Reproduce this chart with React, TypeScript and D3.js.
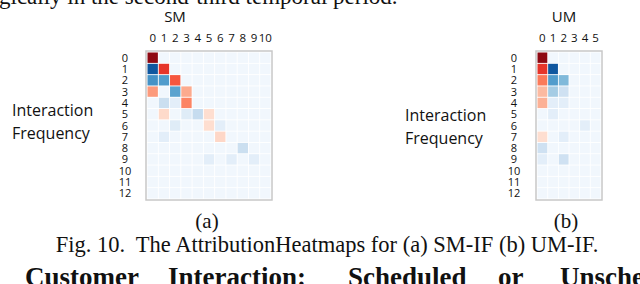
import React from "react";
import * as d3 from "d3";

// column / row index labels
const smCols = ["0", "1", "2", "3", "4", "5", "6", "7", "8", "9", "10"];
const umCols = ["0", "1", "2", "3", "4", "5"];
const rows = ["0", "1", "2", "3", "4", "5", "6", "7", "8", "9", "10", "11", "12"];

// attribution values, positive = red, negative = blue
const smValues = [
  [0.92, 0, 0, 0, 0, 0, 0, 0, 0, 0, 0],
  [-0.85, 0.65, 0, 0, 0, 0, 0, 0, 0, 0, 0],
  [-0.62, -0.58, 0.55, 0, 0, 0, 0, 0, 0, 0, 0],
  [0.35, -0.02, -0.55, 0.3, 0, 0, 0, 0, 0, 0, 0],
  [0, -0.22, -0.1, 0.42, 0, 0, 0, 0, 0, 0, 0],
  [0, 0.14, 0, -0.12, -0.24, 0.12, 0, 0, 0, 0, 0],
  [0, 0, -0.12, 0, 0, 0.12, -0.1, 0, 0, 0, 0],
  [0, -0.1, 0, 0, 0, 0, 0.15, 0, 0, 0, 0],
  [0, 0, 0, 0, 0, 0, 0, 0, -0.22, 0, 0],
  [0, 0, 0, 0, 0, -0.1, 0, -0.1, 0, -0.1, 0],
  [0, 0, 0, 0, 0, 0, 0, 0, 0, 0, 0],
  [0, 0, 0, 0, 0, 0, 0, 0, 0, 0, 0],
  [0, 0, 0, 0, 0, 0, 0, 0, 0, 0, 0],
];

const umValues = [
  [0.92, 0, 0, 0, 0, 0],
  [0.65, -0.85, 0, 0, 0, 0],
  [0.45, -0.58, -0.45, 0, 0, 0],
  [0.25, -0.35, -0.2, 0, 0, 0],
  [0.28, -0.1, -0.1, 0, 0, 0],
  [0, -0.1, 0, 0, 0, 0],
  [0, 0, 0, 0, -0.1, 0],
  [0.12, 0, -0.1, 0, 0, 0],
  [-0.2, 0, 0, 0, 0, 0],
  [-0.1, 0, -0.2, 0, 0, 0],
  [0, 0, 0, 0, 0, 0],
  [0, 0, 0, 0, 0, 0],
  [0, 0, 0, 0, 0, 0],
];

const SANS = "'Open Sans', sans-serif";
const SERIF = "'Liberation Serif', 'Times New Roman', serif";

const color = (v: number) =>
  v > 0 ? d3.interpolateReds(v) : d3.interpolateBlues(Math.max(0.03, -v));

type HeatProps = {
  title: string;
  cols: string[];
  values: number[][];
  x0: number;
  x1: number;
  titleX: number;
  labelX: number;
  labelY: number;
  rowLabelX: number;
  sub: string;
  subX: number;
};

const Heatmap = ({ title, cols, values, x0, x1, titleX, labelX, labelY, rowLabelX, sub, subX }: HeatProps) => {
  const top = 51;
  const bottom = 200;
  const x = d3.scaleBand().domain(cols).range([x0 + 1.5, x1 - 1.5]).paddingInner(0.08);
  const y = d3.scaleBand().domain(rows).range([top + 1.5, bottom - 1.5]).paddingInner(0.08);

  return (
    <g>
      <text x={titleX} y={22} fontFamily={SANS} fontSize={15} textAnchor="middle" fill="#111">
        {title}
      </text>
      <rect x={x0} y={top} width={x1 - x0} height={bottom - top} fill="#fff" stroke="#c8c8c8" strokeWidth={1.5} />
      {values.map((row, ri) =>
        row.map((v, ci) => (
          <rect
            key={`${ri}-${ci}`}
            x={x(cols[ci])}
            y={y(rows[ri])}
            width={x.bandwidth()}
            height={y.bandwidth()}
            fill={color(v)}
          />
        ))
      )}
      {cols.map((c) => (
        <text
          key={c}
          x={(x(c) as number) + x.bandwidth() / 2}
          y={42}
          fontFamily={SANS}
          fontSize={11.5}
          textAnchor="middle"
          fill="#111"
        >
          {c}
        </text>
      ))}
      {rows.map((r) => (
        <text
          key={r}
          x={rowLabelX}
          y={(y(r) as number) + y.bandwidth() / 2 + 4}
          fontFamily={SANS}
          fontSize={11}
          textAnchor="middle"
          fill="#111"
        >
          {r}
        </text>
      ))}
      <text x={labelX} y={labelY} fontFamily={SANS} fontSize={16} fill="#111">
        Interaction
      </text>
      <text x={labelX} y={labelY + 23} fontFamily={SANS} fontSize={16} fill="#111">
        Frequency
      </text>
      <text x={subX} y={228} fontFamily={SERIF} fontSize={21} textAnchor="middle" fill="#111">
        {sub}
      </text>
    </g>
  );
};

// words of the cut-off justified heading line below the figure
const headingWords = ["Customer", "Interaction:", "Scheduled", "or", "Unscheduled"];
const headingX = [25, 168, 348, 498, 560];

export default function App() {
  return (
    <svg
      width={640}
      height={284}
      viewBox="0 0 640 284"
      style={{ position: "absolute", left: 0, top: 0, background: "#fff" }}
    >
      <text x={-1} y={4} fontFamily={SERIF} fontSize={23} fill="#111">
        gically in the second-third temporal period.
      </text>
      <Heatmap
        title="SM"
        cols={smCols}
        values={smValues}
        x0={146}
        x1={272}
        titleX={175}
        labelX={12}
        labelY={116}
        rowLabelX={125}
        sub="(a)"
        subX={207}
      />
      <Heatmap
        title="UM"
        cols={umCols}
        values={umValues}
        x0={536}
        x1={602}
        titleX={564}
        labelX={405}
        labelY={121}
        rowLabelX={514}
        sub="(b)"
        subX={566}
      />
      <text x={327} y={252} fontFamily={SERIF} fontSize={22.5} textAnchor="middle" fill="#111" xmlSpace="preserve">
        Fig. 10.  The AttributionHeatmaps for (a) SM-IF (b) UM-IF.
      </text>
      {headingWords.map((w, i) => (
        <text key={w} x={headingX[i]} y={286} fontFamily={SERIF} fontSize={27} fontWeight="bold" fill="#111">
          {w}
        </text>
      ))}
    </svg>
  );
}
